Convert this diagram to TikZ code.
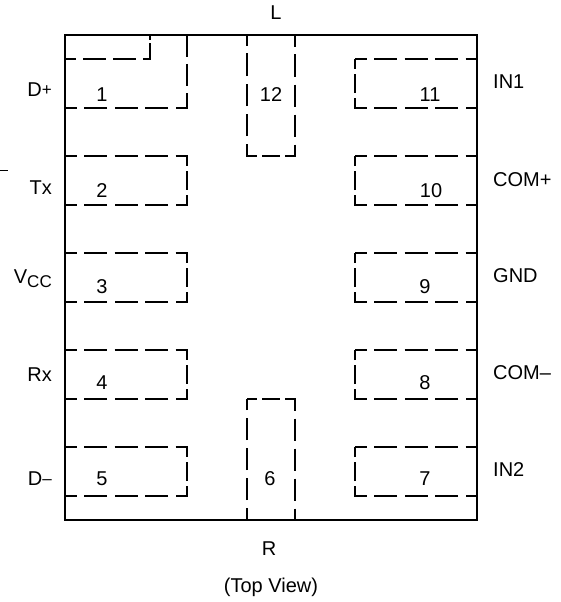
\documentclass[tikz,border=0pt]{standalone}
\usepackage{fontspec}
\setmainfont{Liberation Sans}
\usepackage{tikz}
\newcommand{\smallsign}[1]{\raisebox{1.5pt}{\fontsize{17}{19}\selectfont #1}}

\begin{document}
\begin{tikzpicture}[
  x=1pt, y=-1pt,
  body/.style={rectangle, draw, line width=1.5pt, minimum width=412pt, minimum height=485pt, inner sep=0pt},
  wideline/.style={line width=1.5pt, dash pattern=on 11.5pt off 7.5pt on 23pt off 7.5pt on 23pt off 7.5pt on 23pt off 7.5pt on 21.5pt off 5pt on 19pt off 5pt on 21.5pt off 7.5pt on 23pt off 7.5pt on 23pt off 7.5pt on 23pt off 7.5pt on 21.5pt off 5pt on 19pt off 5pt on 10pt},
  tallline/.style={line width=1.5pt, dash pattern=on 10pt off 5pt on 18pt off 5pt on 22pt off 7.5pt on 22.5pt off 7.5pt on 22.5pt off 7.5pt on 22.5pt off 7.5pt on 22pt off 5pt on 18pt off 5pt on 22pt off 7.5pt on 22.5pt off 7.5pt on 22.5pt off 7.5pt on 22.5pt off 7.5pt on 12pt},
  notchline/.style={line width=1.5pt, dash pattern=on 11pt off 7pt on 23pt off 7pt on 23pt off 7pt on 23pt off 3pt on 18pt off 11pt on 35pt off 7pt on 22pt off 7pt on 26.5pt off 7.5pt on 23pt off 7.5pt on 23pt off 7.5pt on 23pt off 7.5pt on 11.5pt},
  widepad/.pic={\draw[wideline] (0,0) -- (122,0) -- (122,49) -- (0,49) -- cycle;},
  tallpad/.pic={\draw[tallline] (0,0) -- (48,0) -- (48,121) -- (0,121) -- cycle;},
  pin/.style={inner sep=0pt, font=\fontsize{20}{22}\selectfont},
  leftpin/.style={pin, anchor=east},
  rightpin/.style={pin, anchor=west}
]
\useasboundingbox (0,0) rectangle (561,602);
\node[body] (package) at (271,277.5) {};
% pads, left column
\draw[notchline] (65,59) -- (150,59) -- (150,35) -- (187,35) -- (187,108) -- (65,108);
\pic at (65,156) {widepad};
\pic at (65,253) {widepad};
\pic at (65,350) {widepad};
\pic at (65,447) {widepad};
% pads, right column
\pic at (355,59) {widepad};
\pic at (355,156) {widepad};
\pic at (355,253) {widepad};
\pic at (355,350) {widepad};
\pic at (355,447) {widepad};
% pads, middle
\pic at (247,35) {tallpad};
\pic at (247,399) {tallpad};
% pad numbers
\node[pin] (n1) at (102,95) {1};
\node[pin] (n2) at (102,191) {2};
\node[pin] (n3) at (102,287) {3};
\node[pin] (n4) at (102,383) {4};
\node[pin] (n5) at (102,479) {5};
\node[pin] (n6) at (270,479) {6};
\node[pin] (n7) at (425,479) {7};
\node[pin] (n8) at (425,383) {8};
\node[pin] (n9) at (425,287) {9};
\node[pin] (n10) at (431,191) {10};
\node[pin] (n11) at (430,95) {11};
\node[pin] (n12) at (271,95) {12};
% signal names
\node[leftpin] (dp) at (52,90) {D\smallsign{+}};
\node[leftpin] (tx) at (52,188) {Tx};
\node[pin, anchor=base east] (vcc) at (52,283) {V{\fontsize{17}{19}\selectfont\raisebox{-4pt}{CC}}};
\node[leftpin] (rx) at (52,375) {Rx};
\node[leftpin] (dm) at (52,479) {D\smallsign{--}};
\node[rightpin] (in1) at (493,82) {IN1};
\node[rightpin] (comp) at (493,180) {COM+};
\node[rightpin] (gnd) at (493,276) {GND};
\node[rightpin] (comm) at (493,373) {COM--};
\node[rightpin] (in2) at (493,470) {IN2};
\node[pin] (l) at (276,13) {L};
\node[pin] (r) at (269,549) {R};
\node[pin] (view) at (271,587) {(Top View)};
% stray tick at the left edge
\coordinate (tick0) at (0,170);
\coordinate (tick1) at (8,170);
\draw[line width=1pt] (tick0) -- (tick1);
\end{tikzpicture}
\end{document}
